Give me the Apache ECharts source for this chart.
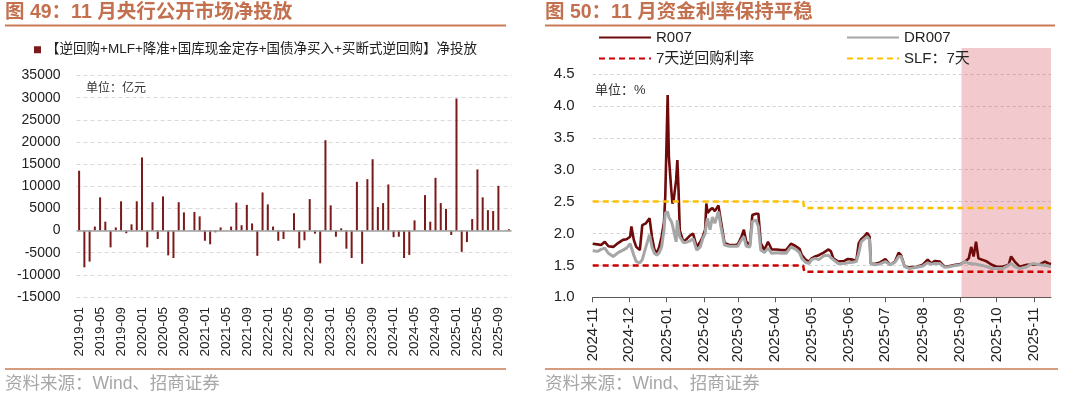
<!DOCTYPE html>
<html><head><meta charset="utf-8">
<script src="https://cdn.jsdelivr.net/npm/echarts@6/dist/echarts.min.js"></script>
<style>html,body{margin:0;padding:0;background:#fff}#c{width:1080px;height:396px}</style>
</head><body><div id="c"></div>
<script>
// ---------- Left chart data ----------
const months = [
 '2019-01','2019-02','2019-03','2019-04','2019-05','2019-06','2019-07','2019-08','2019-09','2019-10','2019-11','2019-12',
 '2020-01','2020-02','2020-03','2020-04','2020-05','2020-06','2020-07','2020-08','2020-09','2020-10','2020-11','2020-12',
 '2021-01','2021-02','2021-03','2021-04','2021-05','2021-06','2021-07','2021-08','2021-09','2021-10','2021-11','2021-12',
 '2022-01','2022-02','2022-03','2022-04','2022-05','2022-06','2022-07','2022-08','2022-09','2022-10','2022-11','2022-12',
 '2023-01','2023-02','2023-03','2023-04','2023-05','2023-06','2023-07','2023-08','2023-09','2023-10','2023-11','2023-12',
 '2024-01','2024-02','2024-03','2024-04','2024-05','2024-06','2024-07','2024-08','2024-09','2024-10','2024-11','2024-12',
 '2025-01','2025-02','2025-03','2025-04','2025-05','2025-06','2025-07','2025-08','2025-09','2025-10','2025-11'
];
const netInjection = [
 13500,-8300,-7000,900,7500,2000,-3800,700,6600,-600,1400,6600,
 16500,-3800,6400,-1900,7700,-5600,-6200,6400,4100,0,4200,3200,
 -2300,-3100,-400,700,0,900,6300,1200,5800,1600,-5700,8600,
 5900,900,-2300,-1900,0,3900,-4000,-2200,7100,-700,-7400,20400,
 5700,-1400,500,-4100,-6200,11000,-7500,11600,16100,5300,6200,10400,
 -1500,-1400,-6200,-5500,2300,0,8000,2000,11900,6200,4900,-1000,
 29800,-4800,-2600,2600,13800,7500,4600,4400,10100,0,300
];
const barName = '【逆回购+MLF+降准+国库现金定存+国债净买入+买断式逆回购】净投放';

// ---------- Right chart data ----------
const rateDates = [
 '2024-11-01','2024-11-05','2024-11-08','2024-11-11','2024-11-14','2024-11-18','2024-11-22','2024-11-26','2024-11-29',
 '2024-12-02','2024-12-03','2024-12-05','2024-12-07','2024-12-10','2024-12-12','2024-12-15','2024-12-18','2024-12-20',
 '2024-12-22','2024-12-24','2024-12-26','2024-12-28','2024-12-30','2024-12-31',
 '2025-01-02','2025-01-03','2025-01-05','2025-01-06','2025-01-07','2025-01-09','2025-01-10','2025-01-11','2025-01-12',
 '2025-01-15','2025-01-17','2025-01-20','2025-01-23','2025-01-26','2025-01-29','2025-01-31',
 '2025-02-02','2025-02-03','2025-02-04','2025-02-06','2025-02-08','2025-02-10','2025-02-13','2025-02-15','2025-02-18',
 '2025-02-22','2025-02-27',
 '2025-03-01','2025-03-04','2025-03-06','2025-03-08','2025-03-11','2025-03-13','2025-03-16','2025-03-18','2025-03-20',
 '2025-03-23','2025-03-26','2025-03-29',
 '2025-04-02','2025-04-06','2025-04-10','2025-04-14','2025-04-18','2025-04-21','2025-04-23','2025-04-26','2025-04-29',
 '2025-05-01','2025-05-04','2025-05-07','2025-05-11','2025-05-15','2025-05-17','2025-05-19','2025-05-23','2025-05-28','2025-05-31',
 '2025-06-04','2025-06-07','2025-06-09','2025-06-11','2025-06-14','2025-06-16','2025-06-18','2025-06-19','2025-06-22','2025-06-26',
 '2025-07-01','2025-07-05','2025-07-09','2025-07-12','2025-07-14','2025-07-17','2025-07-21','2025-07-27',
 '2025-08-01','2025-08-05','2025-08-08','2025-08-11','2025-08-15','2025-08-19','2025-08-23','2025-08-28',
 '2025-09-01','2025-09-05','2025-09-08','2025-09-10','2025-09-12','2025-09-14','2025-09-16','2025-09-19','2025-09-23','2025-09-27',
 '2025-10-01','2025-10-06','2025-10-11','2025-10-13','2025-10-16','2025-10-20','2025-10-26','2025-10-31',
 '2025-11-06','2025-11-10','2025-11-13','2025-11-15'
];
const r007 = [
 1.84,1.83,1.82,1.87,1.80,1.79,1.85,1.90,1.91,
 1.95,2.11,1.90,1.79,1.74,2.13,2.16,2.24,1.95,
 1.75,1.69,1.79,1.95,2.19,2.58,
 4.17,3.20,2.68,2.47,2.53,2.84,3.15,2.68,2.05,
 1.87,1.90,1.96,2.00,1.79,1.87,1.95,
 2.06,2.47,2.32,2.37,2.40,2.35,2.44,2.20,1.85,
 1.82,1.82,
 1.83,1.95,2.06,1.87,1.82,2.29,2.31,2.31,1.85,
 1.74,1.87,1.75,
 1.75,1.74,1.74,1.84,1.80,1.76,1.66,1.59,1.56,
 1.61,1.64,1.66,1.70,1.75,1.72,1.61,1.56,1.57,1.60,
 1.59,1.57,1.85,1.91,1.96,2.01,1.95,1.53,1.52,1.54,
 1.60,1.51,1.56,1.70,1.66,1.48,1.47,1.48,
 1.51,1.59,1.53,1.57,1.56,1.48,1.49,1.51,
 1.52,1.56,1.61,1.79,1.64,1.87,1.61,1.59,1.56,1.51,
 1.48,1.48,1.51,1.64,1.56,1.48,1.51,1.51,
 1.52,1.56,1.53,1.52
];
const dr007 = [
 1.73,1.72,1.75,1.77,1.69,1.64,1.70,1.74,1.77,
 1.84,1.85,1.66,1.56,1.54,1.59,1.79,1.98,1.79,
 1.69,1.66,1.70,1.79,2.06,2.32,
 2.34,2.25,2.19,2.13,2.12,1.87,2.21,2.05,1.95,
 1.86,1.86,1.88,1.92,1.74,1.79,1.92,
 2.00,2.16,2.24,2.06,2.26,2.16,2.34,2.11,1.82,
 1.80,1.80,
 1.80,1.90,1.95,1.80,1.79,2.19,2.21,2.11,1.74,
 1.70,1.77,1.69,
 1.70,1.69,1.69,1.79,1.75,1.70,1.61,1.55,1.53,
 1.59,1.61,1.59,1.65,1.66,1.62,1.59,1.53,1.53,1.54,
 1.55,1.56,1.69,1.87,1.92,1.95,1.90,1.53,1.51,1.52,
 1.56,1.51,1.55,1.64,1.64,1.48,1.45,1.47,
 1.49,1.54,1.52,1.53,1.53,1.47,1.48,1.50,
 1.51,1.56,1.53,1.53,1.52,1.52,1.51,1.50,1.48,1.45,
 1.45,1.45,1.50,1.53,1.48,1.45,1.48,1.53,
 1.51,1.50,1.49,1.48
];
const policyDates = ['2024-11-01','2025-04-24','2025-04-25','2025-11-15'];
const reverseRepo7d = [1.5,1.5,1.4,1.4];
const slf7d = [2.5,2.5,2.4,2.4];
const rateTicks = ['2024-11-01','2024-12-01','2025-01-01','2025-02-01','2025-03-01','2025-04-01','2025-05-01',
 '2025-06-01','2025-07-01','2025-08-01','2025-09-01','2025-10-01','2025-11-01'];
const rateAxisRange = ['2024-11-01','2025-11-15'];
const highlightRange = ['2025-09-02','2025-11-15'];

// ---------- build ----------
function ts(s){const p=s.split('-').map(Number);return new Date(p[0],p[1]-1,p[2]).getTime();}
function pairs(d,v){return d.map((x,i)=>[ts(x),v[i]]);}
function ym(v){const d=new Date(v);const m=d.getMonth()+1;return d.getFullYear()+'-'+(m<10?'0'+m:m);}
const FONT='"Liberation Sans","Noto Sans CJK SC",sans-serif';
const tickTs = rateTicks.map(ts);

const chart = echarts.init(document.getElementById('c'), null, {renderer:'canvas'});
const option = {
  animation:false,
  textStyle:{fontFamily:FONT},
  grid:[
    {left:76.5, right:568.5, top:75.5, bottom:99},
    {left:592.7, right:29, top:74, bottom:98.7},
    {left:592.7, right:29, top:48, bottom:98.7}
  ],
  legend:[
    {left:34, top:43, padding:0, icon:'rect', itemWidth:7, itemHeight:7, selectedMode:false, data:[barName],
     textStyle:{fontSize:13.5, color:'#222', fontFamily:FONT}},
    {left:598, top:30, padding:0, orient:'vertical', itemWidth:52, itemHeight:14, itemGap:6, selectedMode:false,
     itemStyle:{opacity:0}, data:['R007','7天逆回购利率'], textStyle:{fontSize:15, color:'#222', fontFamily:FONT}},
    {left:846, top:30, padding:0, orient:'vertical', itemWidth:52, itemHeight:14, itemGap:6, selectedMode:false,
     itemStyle:{opacity:0}, data:['DR007','SLF：7天'], textStyle:{fontSize:15, color:'#222', fontFamily:FONT}}
  ],
  xAxis:[
    {type:'category', gridIndex:0, data:months, boundaryGap:true,
     axisLine:{show:false, onZero:false}, axisTick:{show:false},
     axisLabel:{interval:3, rotate:90, fontSize:13.5, color:'#222', margin:10}},
    {type:'value', gridIndex:1, min:ts(rateAxisRange[0]), max:ts(rateAxisRange[1]),
     axisLine:{show:true, onZero:false, lineStyle:{color:'#595959', width:1}},
     axisTick:{show:true, length:5, customValues:tickTs, lineStyle:{color:'#595959'}},
     axisLabel:{customValues:tickTs, rotate:90, fontSize:15, color:'#222', margin:10, formatter:ym},
     splitLine:{show:false}},
    {type:'value', gridIndex:2, show:false, min:ts(rateAxisRange[0]), max:ts(rateAxisRange[1])}
  ],
  yAxis:[
    {type:'value', gridIndex:0, min:-15000, max:35000, interval:5000,
     axisLine:{show:false}, axisTick:{show:false},
     axisLabel:{fontSize:14, color:'#222', margin:16, formatter:function(v){return String(v);}},
     splitLine:{lineStyle:{color:'#D9D9D9', type:[4,3], width:1}}},
    {type:'value', gridIndex:1, min:1, max:4.5, interval:0.5,
     axisLine:{show:false}, axisTick:{show:false},
     axisLabel:{fontSize:15, color:'#222', margin:18, formatter:function(v){return v.toFixed(1);}},
     splitLine:{lineStyle:{color:'#D0D0D0', type:[3,3], width:1}}},
    {type:'value', gridIndex:2, show:false, min:0, max:1}
  ],
  series:[
    {name:barName, type:'bar', xAxisIndex:0, yAxisIndex:0, data:netInjection, barWidth:2,
     itemStyle:{color:'#7B1A1A'},
     markLine:{silent:true, symbol:['none','none'], label:{show:false},
       lineStyle:{color:'#A0A0A0', width:1.5, type:'solid'}, data:[{yAxis:0}]}},
    {name:'R007', type:'line', xAxisIndex:1, yAxisIndex:1, data:pairs(rateDates,r007),
     showSymbol:false, symbol:'none', lineStyle:{color:'#6E0A0A', width:2.6}, itemStyle:{color:'#6E0A0A'}, z:3},
    {name:'DR007', type:'line', xAxisIndex:1, yAxisIndex:1, data:pairs(rateDates,dr007),
     showSymbol:false, symbol:'none', lineStyle:{color:'#A6A6A6', width:3}, itemStyle:{color:'#A6A6A6'}, z:4},
    {name:'7天逆回购利率', type:'line', xAxisIndex:1, yAxisIndex:1, data:pairs(policyDates,reverseRepo7d),
     showSymbol:false, symbol:'none', lineStyle:{color:'#CC0000', width:2.5, type:[6,4]}, itemStyle:{color:'#CC0000'}, z:5},
    {name:'SLF：7天', type:'line', xAxisIndex:1, yAxisIndex:1, data:pairs(policyDates,slf7d),
     showSymbol:false, symbol:'none', lineStyle:{color:'#FFC000', width:2.5, type:[6,4]}, itemStyle:{color:'#FFC000'}, z:5},
    {name:'highlight', type:'line', xAxisIndex:2, yAxisIndex:2, data:[[ts(highlightRange[0]),0]],
     showSymbol:false, symbol:'none', lineStyle:{opacity:0}, z:20, silent:true,
     markArea:{silent:true, itemStyle:{color:'rgba(211,75,85,0.30)'},
       data:[[{xAxis:ts(highlightRange[0]), yAxis:0},{xAxis:ts(highlightRange[1]), yAxis:1}]]}}
  ],
  graphic:[
    {type:'text', x:5, y:13, style:{text:'图 49：11 月央行公开市场净投放', font:'bold 19.5px '+FONT, fill:'#C3704F', textVerticalAlign:'middle'}},
    {type:'text', x:545, y:13, style:{text:'图 50：11 月资金利率保持平稳', font:'bold 19.5px '+FONT, fill:'#C3704F', textVerticalAlign:'middle'}},
    {type:'line', shape:{x1:5,y1:25.5,x2:506,y2:25.5}, style:{stroke:'#C97B55', lineWidth:2}},
    {type:'line', shape:{x1:545,y1:25.5,x2:1055,y2:25.5}, style:{stroke:'#C97B55', lineWidth:2}},
    {type:'line', shape:{x1:5,y1:369,x2:506,y2:369}, style:{stroke:'#C97B55', lineWidth:1.5}},
    {type:'line', shape:{x1:545,y1:369,x2:1058,y2:369}, style:{stroke:'#C97B55', lineWidth:1.5}},
    {type:'text', x:5, y:384, style:{text:'资料来源：Wind、招商证券', font:'17.5px '+FONT, fill:'#A6A6A6', textVerticalAlign:'middle'}},
    {type:'text', x:545, y:384, style:{text:'资料来源：Wind、招商证券', font:'17.5px '+FONT, fill:'#A6A6A6', textVerticalAlign:'middle'}},
    {type:'text', x:86, y:89, style:{text:'单位：亿元', font:'12px '+FONT, fill:'#333', textVerticalAlign:'middle'}},
    {type:'text', x:595, y:90, style:{text:'单位：%', font:'13px '+FONT, fill:'#333', textVerticalAlign:'middle'}}
  ]
};
chart.setOption(option);
</script>
</body></html>
